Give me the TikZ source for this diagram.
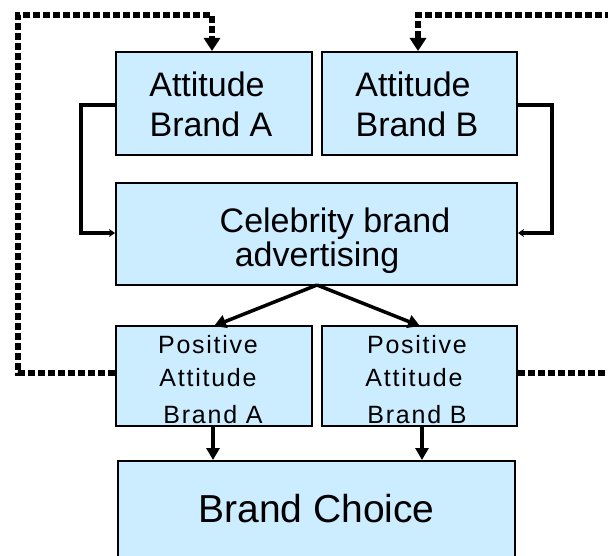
\documentclass[tikz,border=0pt]{standalone}
\usepackage{fontspec}
\setmainfont{Liberation Sans}
\newfontfamily\posfont[LetterSpace=7]{Liberation Sans}
\usetikzlibrary{arrows.meta}
\definecolor{boxfill}{RGB}{204,236,255}
\tikzset{
  box/.style={draw=black, fill=boxfill, line width=2pt, inner sep=0pt},
  bigtxt/.style={inner sep=0pt, anchor=base, font=\fontsize{34}{34}\selectfont},
  postxt/.style={inner sep=0pt, anchor=base, font=\posfont\fontsize{25}{25}\selectfont},
  choicetxt/.style={inner sep=0pt, anchor=base, font=\fontsize{39}{39}\selectfont},
  dotline/.style={line width=6pt, dash pattern=on 7pt off 3pt, -{Triangle[width=16pt,length=13pt]}},
  solidlink/.style={line width=3.5pt, -{Stealth[width=8pt,length=6pt]}},
  mainarrow/.style={line width=3.5pt, -{Triangle[width=13pt,length=12pt]}}
}
\begin{document}
\begin{tikzpicture}[x=1pt,y=-1pt]
\useasboundingbox (0,0) rectangle (608,556);
\fill[white] (0,0) rectangle (608,556);

% boxes
\node[box, minimum width=196pt, minimum height=103pt] (attA) at (214,103.5) {};
\node[box, minimum width=195pt, minimum height=103pt] (attB) at (419.5,103.5) {};
\node[box, minimum width=401pt, minimum height=102pt] (celeb) at (316.5,234) {};
\node[box, minimum width=196pt, minimum height=100pt] (posA) at (214,376) {};
\node[box, minimum width=195pt, minimum height=100pt] (posB) at (419.5,376) {};
\node[box, minimum width=397pt, minimum height=114pt] (choice) at (316.5,518) {};

% texts
\node[bigtxt] (tA1) at (207,97) {Attitude};
\node[bigtxt] (tA2) at (211,137) {Brand A};
\node[bigtxt] (tB1) at (413,97) {Attitude};
\node[bigtxt] (tB2) at (417,137) {Brand B};
\node[bigtxt] (tC1) at (335,233) {Celebrity brand};
\node[bigtxt] (tC2) at (317,267) {advertising};
\node[postxt] (pA1) at (208,353) {Positive};
\node[postxt] (pA2) at (208,386) {Attitude};
\node[postxt] (pA3) at (213,423) {Brand A};
\node[postxt] (pB1) at (417,353) {Positive};
\node[postxt] (pB2) at (414,386) {Attitude};
\node[postxt] (pB3) at (417,423) {Brand B};
\node[choicetxt] (tCh) at (316.5,522) {Brand Choice};

% coordinates
\coordinate (dl1) at (18,373);
\coordinate (dl2) at (18,15);
\coordinate (dl3) at (212,15);
\coordinate (dr1) at (611,373);
\coordinate (dr2) at (611,15);
\coordinate (dr3) at (418,15);
\coordinate (sl1) at (81,105);
\coordinate (sl2) at (81,233);
\coordinate (sr1) at (552,105);
\coordinate (sr2) at (552,233);
\coordinate (cb) at (317,285);
\coordinate (pa) at (214,326);
\coordinate (pb) at (420,326);
\coordinate (qa) at (213,426);
\coordinate (qb) at (422,426);

% dotted feedback loops
\draw[dotline] (posA.west |- dl1) -- (dl1) -- (dl2) -- (dl3) -- (dl3 |- attA.north);
\draw[dotline] (posB.east |- dr1) -- (dr1) -- (dr2) -- (dr3) -- (dr3 |- attB.north);

% solid links into celebrity box
\draw[solidlink] (attA.west |- sl1) -- (sl1) -- (sl2) -- (celeb.west |- sl2);
\draw[solidlink] (attB.east |- sr1) -- (sr1) -- (sr2) -- (celeb.east |- sr2);

% celebrity to positive attitudes
\draw[mainarrow] (cb) -- (pa);
\draw[mainarrow] (cb) -- (pb);

% positive to brand choice
\draw[mainarrow] (qa) -- (qa |- choice.north);
\draw[mainarrow] (qb) -- (qb |- choice.north);
\end{tikzpicture}
\end{document}
